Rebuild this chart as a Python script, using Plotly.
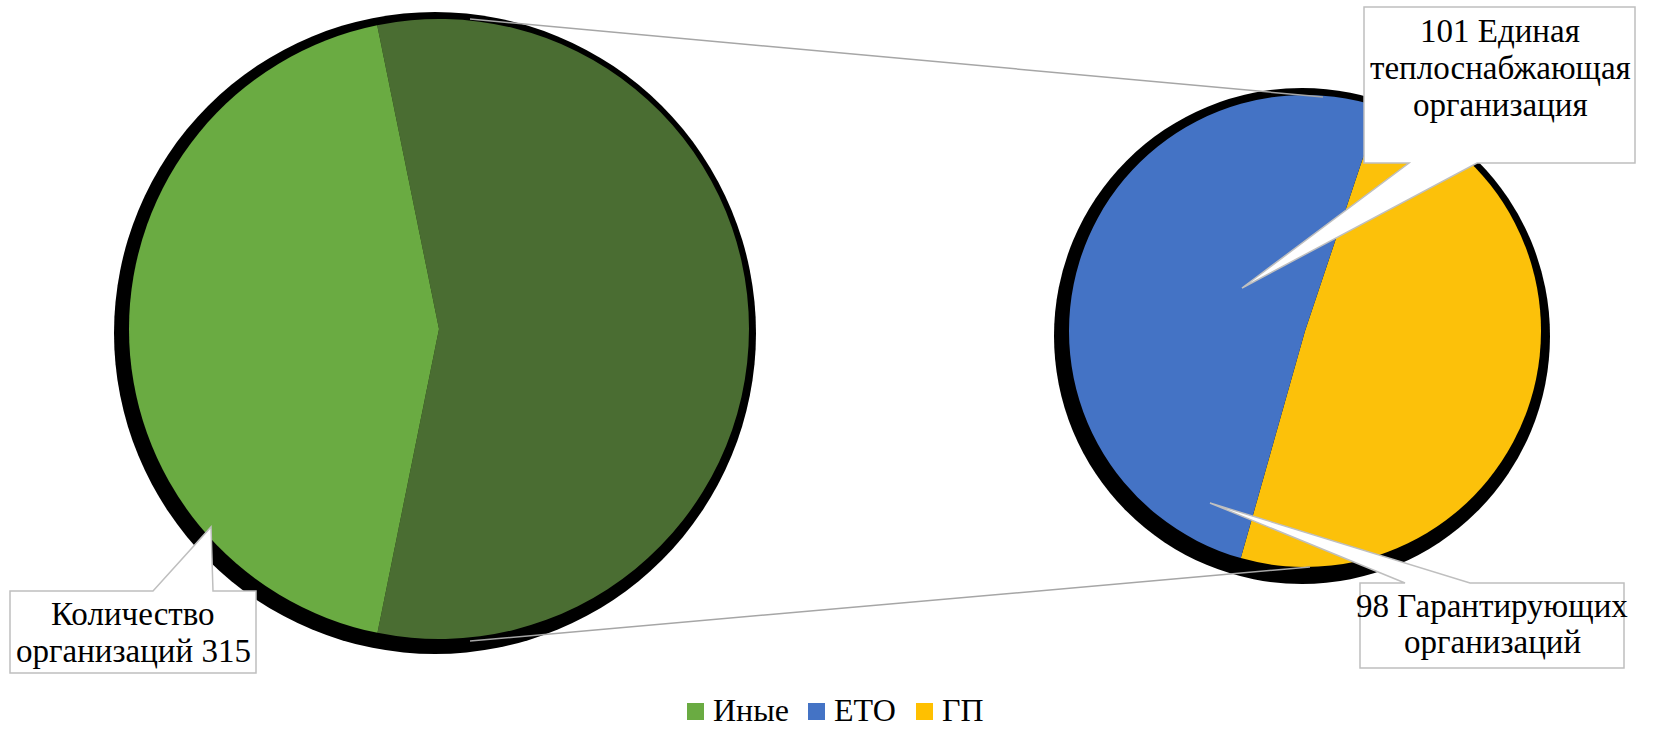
import plotly.graph_objects as go

W, H = 1656, 731

# ---- data ----
main_labels = ["ЕТО + ГП", "Иные"]
main_values = [199, 154]
main_colors = ["#4a6d32", "#6aab42"]

sub_labels = ["ГП", "ЕТО"]
sub_values = [98, 101]
sub_colors = ["#fcc10a", "#4473c5"]

legend_labels = ["Иные", "ЕТО", "ГП"]
legend_colors = ["#6aab42", "#4473c5", "#ffc000"]

label_left = ["Количество", "организаций 315"]
label_eto = ["101 Единая", "теплоснабжающая", "организация"]
label_gp = ["98 Гарантирующих", "организаций"]

FONT = "Liberation Serif"


def px_dom(cx, cy, r):
    return dict(x=[(cx - r) / W, (cx + r) / W], y=[(H - (cy + r)) / H, (H - (cy - r)) / H])


fig = go.Figure()

# main pie
fig.add_trace(go.Pie(
    labels=main_labels, values=main_values, sort=False, direction="clockwise",
    rotation=-11.5, marker=dict(colors=main_colors, line=dict(width=0)),
    textinfo="none", hoverinfo="label+value", showlegend=False,
    domain=px_dom(439, 329, 310),
))
# secondary pie
fig.add_trace(go.Pie(
    labels=sub_labels, values=sub_values, sort=False, direction="clockwise",
    rotation=18.5, marker=dict(colors=sub_colors, line=dict(width=0)),
    textinfo="none", hoverinfo="label+value", showlegend=False,
    domain=px_dom(1305, 331, 236),
))

# invisible trace to hold the pixel axes
fig.add_trace(go.Scatter(x=[None], y=[None], showlegend=False, hoverinfo="skip"))

shapes = []
# shadows
shapes.append(dict(type="circle", xref="x", yref="y", layer="below",
                   x0=435 - 321, x1=435 + 321, y0=333 - 321, y1=333 + 321,
                   fillcolor="black", line=dict(width=0)))
shapes.append(dict(type="circle", xref="x", yref="y", layer="below",
                   x0=1302 - 248, x1=1302 + 248, y0=336 - 248, y1=336 + 248,
                   fillcolor="black", line=dict(width=0)))
# connectors
shapes.append(dict(type="line", xref="x", yref="y", x0=470, y0=19, x1=1323, y1=97,
                   line=dict(color="#a6a6a6", width=1.5)))
shapes.append(dict(type="line", xref="x", yref="y", x0=470, y0=641, x1=1310, y1=567,
                   line=dict(color="#a6a6a6", width=1.5)))


def callout(pts):
    d = "M " + " L ".join(f"{x},{y}" for x, y in pts) + " Z"
    return dict(type="path", xref="x", yref="y", path=d, fillcolor="white",
                line=dict(color="#bfbfbf", width=1.5))


shapes.append(callout([(10, 591), (153, 591), (211, 527), (213, 591), (256, 591),
                       (256, 673), (10, 673)]))
shapes.append(callout([(1364, 7), (1635, 7), (1635, 163), (1477, 163), (1242, 288),
                       (1409, 163), (1364, 163)]))
shapes.append(callout([(1360, 583), (1405, 583), (1210, 503), (1470, 583), (1624, 583),
                       (1624, 668), (1360, 668)]))

annotations = []


def add_lines(lines, cx, baselines):
    for t, b in zip(lines, baselines):
        annotations.append(dict(x=cx, y=b - 11, xref="x", yref="y", text=t,
                                showarrow=False, xanchor="center", yanchor="middle",
                                font=dict(family=FONT, size=33, color="black")))


add_lines(label_left, 133, [625, 662])
add_lines(label_eto, 1500, [42, 79, 116])
add_lines(label_gp, 1492, [617, 653])

# legend (drawn manually to match the square keys)
leg_x = [687, 808, 916]
for lab, col, x0 in zip(legend_labels, legend_colors, leg_x):
    shapes.append(dict(type="rect", xref="x", yref="y", x0=x0, x1=x0 + 17, y0=703, y1=720,
                       fillcolor=col, line=dict(width=0)))
    annotations.append(dict(x=x0 + 24, y=710, xref="x", yref="y", text=lab,
                            showarrow=False, xanchor="left", yanchor="middle",
                            font=dict(family=FONT, size=32, color="black")))

fig.update_layout(
    width=W, height=H,
    margin=dict(l=0, r=0, t=0, b=0),
    paper_bgcolor="white", plot_bgcolor="rgba(0,0,0,0)",
    font=dict(family=FONT),
    xaxis=dict(range=[0, W], visible=False, domain=[0, 1], fixedrange=True),
    yaxis=dict(range=[H, 0], visible=False, domain=[0, 1], fixedrange=True),
    shapes=shapes, annotations=annotations,
    showlegend=False,
)

fig.write_html(
    "out.html",
    config={"displayModeBar": False},
    post_script="document.body.style.margin='0';document.body.style.overflow='hidden';",
)
